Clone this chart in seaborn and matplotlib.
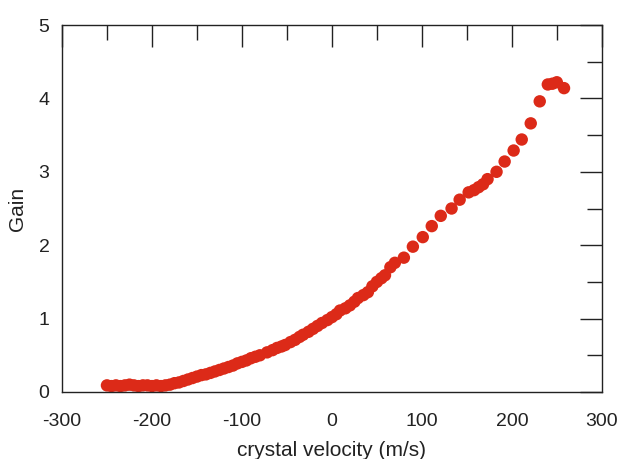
import numpy as np
import pandas as pd
import matplotlib
matplotlib.use("Agg")
import matplotlib.pyplot as plt
import seaborn as sns
from matplotlib.ticker import MultipleLocator

# values
velocity = [-250, -245, -240, -235, -230, -225, -220, -215, -210, -205,
            -200, -195, -190, -185, -180, -175, -170, -165, -160, -155,
            -150, -145, -140, -135, -130, -125, -120, -115, -110, -105,
            -100, -95, -90, -85, -80, -72, -66, -61, -56, -52,
            -46, -41, -36, -32, -26, -21, -16, -11, -5, 0,
            5, 9, 15, 20, 25, 29, 35, 40, 45, 50,
            55, 59, 65, 70, 80, 90, 101, 111, 121, 133,
            142, 152, 158, 163, 168, 173, 183, 192, 202, 211,
            221, 231, 240, 245, 250, 258]
gain = [0.09, 0.08, 0.09, 0.08, 0.09, 0.10, 0.09, 0.08, 0.09, 0.09,
        0.08, 0.09, 0.08, 0.09, 0.10, 0.12, 0.13, 0.15, 0.17, 0.19,
        0.21, 0.23, 0.24, 0.26, 0.28, 0.30, 0.32, 0.34, 0.36, 0.39,
        0.41, 0.43, 0.46, 0.48, 0.50, 0.54, 0.57, 0.60, 0.62, 0.64,
        0.68, 0.71, 0.75, 0.78, 0.82, 0.86, 0.90, 0.94, 0.98, 1.02,
        1.06, 1.11, 1.14, 1.18, 1.23, 1.28, 1.32, 1.36, 1.44, 1.50,
        1.55, 1.59, 1.70, 1.76, 1.83, 1.98, 2.11, 2.26, 2.40, 2.50,
        2.62, 2.72, 2.75, 2.79, 2.83, 2.90, 3.00, 3.14, 3.29, 3.44,
        3.66, 3.96, 4.19, 4.20, 4.22, 4.14]

df = pd.DataFrame({"velocity": velocity, "gain": gain})

sns.set_style("white")
plt.rcParams["font.family"] = ["Liberation Sans", "DejaVu Sans"]
plt.rcParams["axes.unicode_minus"] = False

fig = plt.figure(figsize=(6.18, 4.59), dpi=100)
ax = fig.add_axes([0.1003, 0.146, 0.8735, 0.7995])

sns.scatterplot(data=df, x="velocity", y="gain", ax=ax, color="#dc2a18",
                s=80, edgecolor="none", linewidth=0, marker="o", legend=False)

ax.set_xlim(-300, 300)
ax.set_ylim(0, 5)
ax.xaxis.set_major_locator(MultipleLocator(100))
ax.xaxis.set_minor_locator(MultipleLocator(50))
ax.yaxis.set_major_locator(MultipleLocator(1))
ax.yaxis.set_minor_locator(MultipleLocator(0.5))

for side in ax.spines.values():
    side.set_color("#222222")
    side.set_linewidth(1.0)

ax.tick_params(which="both", direction="in", top=True, right=True,
               color="#222222", width=1.0, labelsize=14, labelcolor="#222222")
ax.tick_params(which="major", length=16)
ax.tick_params(which="minor", length=11)
ax.tick_params(axis="x", which="both", pad=15)
ax.tick_params(axis="y", which="both", pad=9)

ax.set_xlabel("crystal velocity (m/s)", fontsize=15, color="#222222", labelpad=8)
ax.set_ylabel("Gain", fontsize=15, color="#222222", labelpad=8)

fig.savefig("out.png", dpi=100)
